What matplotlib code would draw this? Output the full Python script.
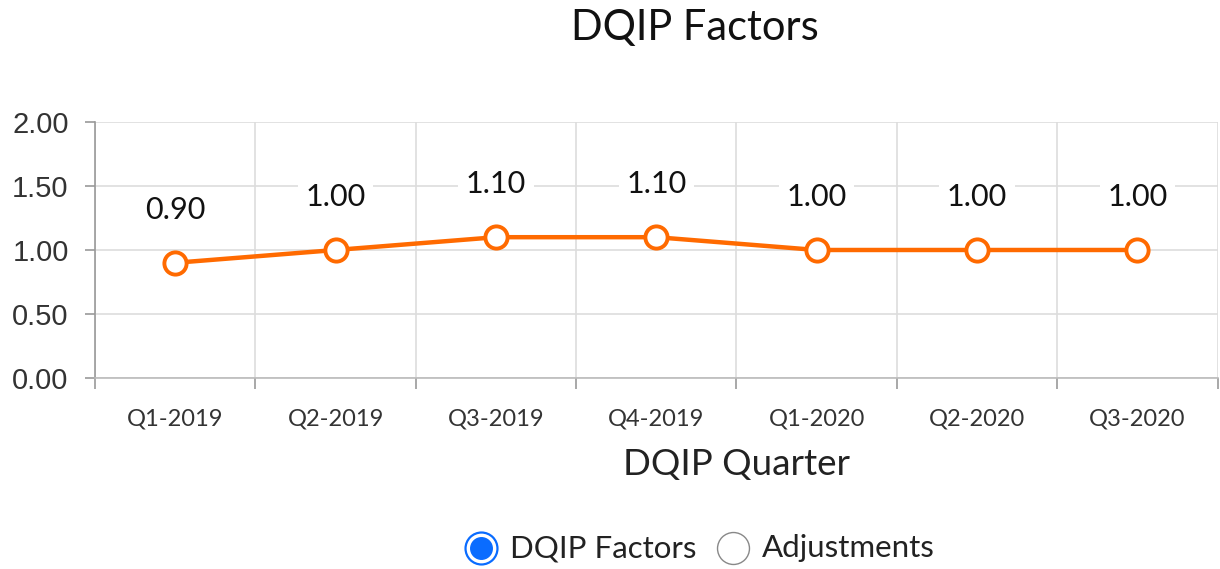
import matplotlib.pyplot as plt
from matplotlib.lines import Line2D

quarters = ["Q1-2019", "Q2-2019", "Q3-2019", "Q4-2019", "Q1-2020", "Q2-2020", "Q3-2020"]
factors = [0.90, 1.00, 1.10, 1.10, 1.00, 1.00, 1.00]
y_ticks = [0.0, 0.5, 1.0, 1.5, 2.0]
legend_items = ["DQIP Factors", "Adjustments"]

line_color = "#FF6A00"
grid_color = "#DDDDDD"

fig = plt.figure(figsize=(12.2, 5.69), dpi=100)
ax = fig.add_axes([0.0779, 0.3357, 0.9201, 0.4499])

x = list(range(len(quarters)))
ax.plot(x, factors, color=line_color, linewidth=3.2, marker="o", markersize=16,
        markerfacecolor="white", markeredgecolor=line_color, markeredgewidth=2.8,
        zorder=5, clip_on=False)

for xi, v in zip(x, factors):
    ax.annotate(f"{v:.2f}", (xi, v), xytext=(0, 38), textcoords="offset points",
                ha="center", va="center", fontsize=22, family="Lato", color="#111111",
                bbox=dict(boxstyle="square,pad=0.25", fc="white", ec="none"), zorder=6)

ax.set_xlim(-0.5, len(quarters) - 0.5)
ax.set_ylim(0, 2)
ax.set_yticks(y_ticks)
ax.set_yticklabels([f"{t:.2f}" for t in y_ticks], family="Liberation Sans", fontsize=21, color="#333333")

# category labels at centres, tick marks at boundaries
ax.set_xticks([i - 0.5 for i in range(len(quarters) + 1)])
ax.set_xticklabels([])
ax.set_xticks(x, minor=True)
ax.set_xticklabels(quarters, minor=True, family="Lato", fontsize=17, color="#333333")
ax.tick_params(axis="x", which="minor", length=0, pad=22)
ax.tick_params(axis="x", which="major", length=8, color="#999999", width=1.2)
ax.tick_params(axis="y", length=7, color="#999999", width=1.2, pad=12)

ax.grid(True, which="major", color=grid_color, linewidth=1.2)
ax.set_axisbelow(True)
for s in ["top", "right"]:
    ax.spines[s].set_visible(False)
ax.spines["left"].set_color("#999999")
ax.spines["left"].set_linewidth(1.2)
ax.spines["bottom"].set_color("#BBBBBB")
ax.spines["bottom"].set_linewidth(1.2)

ax.set_xlabel("DQIP Quarter", family="Lato", fontsize=26.5, color="#222222", va="center")
ax.xaxis.set_label_coords((737 - 95) / 1123, -(465 - 378) / 256)
fig.text(695 / 1220, 1 - 28 / 569, "DQIP Factors", family="Lato", fontsize=30, color="#111111",
         ha="center", va="center")

# radio-button style selector below the chart
ly = 1 - 548 / 569
fig.add_artist(Line2D([481 / 1220], [ly], marker="o", markersize=23, markerfacecolor="white",
                      markeredgecolor="#0A6CFF", markeredgewidth=1.6, transform=fig.transFigure))
fig.add_artist(Line2D([481 / 1220], [ly], marker="o", markersize=15.5, markerfacecolor="#0A6CFF",
                      markeredgecolor="#0A6CFF", transform=fig.transFigure))
fig.add_artist(Line2D([733 / 1220], [ly], marker="o", markersize=23, markerfacecolor="white",
                      markeredgecolor="#888888", markeredgewidth=1, transform=fig.transFigure))
fig.text(510 / 1220, ly, legend_items[0], family="Lato", fontsize=22.5, color="#222222", va="center", ha="left")
fig.text(762 / 1220, ly, legend_items[1], family="Lato", fontsize=22.5, color="#222222", va="center", ha="left")

fig.savefig("out.png", dpi=100)
